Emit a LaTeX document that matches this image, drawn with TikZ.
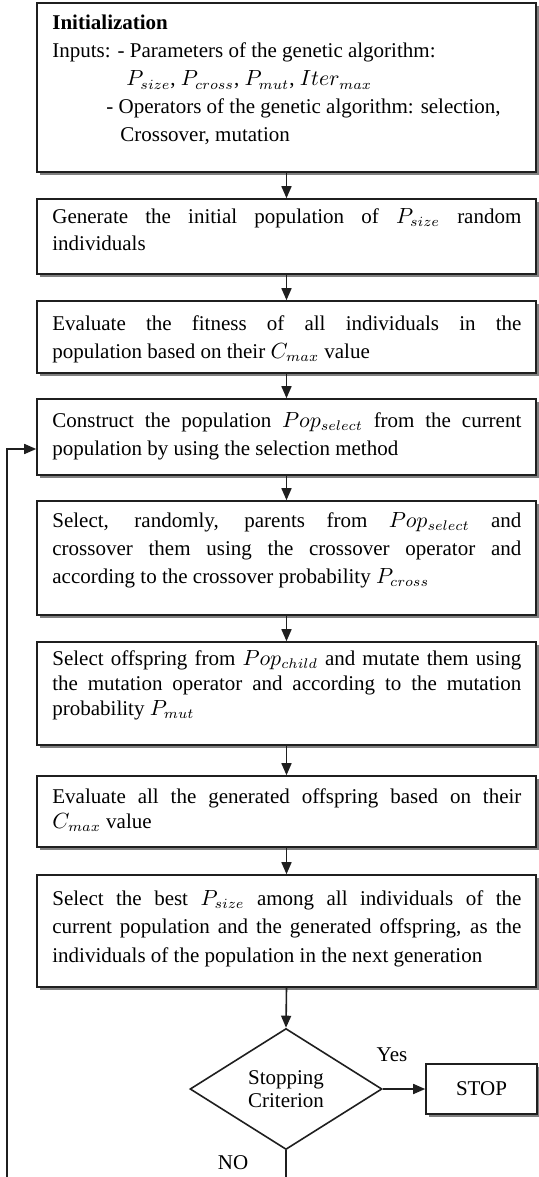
\documentclass[tikz,border=0pt]{standalone}
\usepackage{fontspec}
\setmainfont{Liberation Serif}
\usetikzlibrary{shapes.geometric,arrows.meta,shadows,calc}
\newcommand{\gatext}[2]{\parbox[t]{234.5pt}{\fontsize{10.5pt}{#1}\selectfont\hyphenpenalty=10000\exhyphenpenalty=10000\emergencystretch=2em #2}}
\begin{document}
\begin{tikzpicture}[x=0.5pt,y=-0.5pt,
 line/.style={draw=black!88, line width=0.8pt},
 gabox/.style={line, fill=white, rectangle, inner sep=0pt, minimum width=249.5pt,
   drop shadow={shadow xshift=1.3pt, shadow yshift=-1.3pt, fill=black!50, opacity=1}},
 txt/.style={inner sep=0pt, anchor=base west},
 arr/.style={line, -{Triangle[length=6pt,width=5pt]}},
 lbl/.style={inner sep=0pt, font=\fontsize{10.5pt}{12pt}\selectfont}]
\useasboundingbox[fill=white] (0,0) rectangle (538,1177);

% boxes
\node[gabox, minimum height=84.5pt] (b1) at (286.5,87.5) {};
\node[gabox, minimum height=37.5pt] (b2) at (286.5,236.5) {};
\node[gabox, minimum height=36pt]   (b3) at (286.5,337) {};
\node[gabox, minimum height=38pt]   (b4) at (286.5,437) {};
\node[gabox, minimum height=57pt]   (b5) at (286.5,558) {};
\node[gabox, minimum height=51.5pt] (b6) at (286.5,693.5) {};
\node[gabox, minimum height=35.5pt] (b7) at (286.5,811.5) {};
\node[gabox, minimum height=56pt]   (b8) at (286.5,931) {};
\node[line, diamond, inner sep=0pt, minimum width=96pt, minimum height=60.5pt] (dia) at (286,1089) {};
\node[gabox, minimum width=55.5pt, minimum height=25pt, font=\fontsize{10.5pt}{12pt}\selectfont] (stop) at (481.5,1089) {STOP};

% texts
\node[txt] (t1) at (52,30) {\parbox[t]{240pt}{\fontsize{10.5pt}{14pt}\selectfont
\textbf{Initialization}\\
Inputs: - Parameters of the genetic algorithm:\\
\hspace*{37pt}$P_{size}$, $P_{cross}$, $P_{mut}$, $Iter_{max}$\\
\hspace*{27pt}- Operators of the genetic algorithm: selection,\\
\hspace*{34pt}Crossover, mutation}};
\node[txt] (t2) at (52,223) {\gatext{13.5pt}{Generate the initial population of $P_{size}$ random\linebreak individuals}};
\node[txt] (t3) at (52,330) {\gatext{14pt}{Evaluate the fitness of all individuals in the\linebreak population based on their $C_{max}$ value}};
\node[txt] (t4) at (52,427) {\gatext{14pt}{Construct the population $Pop_{select}$ from the current\linebreak population by using the selection method}};
\node[txt] (t5) at (52,527) {\gatext{14pt}{Select, randomly, parents from $Pop_{select}$ and\linebreak crossover them using the crossover operator and\linebreak according to the crossover probability $P_{cross}$}};
\node[txt] (t6) at (52,665) {\gatext{12.5pt}{Select offspring from $Pop_{child}$ and mutate them using\linebreak the mutation operator and according to the mutation\linebreak probability $P_{mut}$}};
\node[txt] (t7) at (52,803) {\gatext{12.5pt}{Evaluate all the generated offspring based on their\linebreak $C_{max}$ value}};
\node[txt] (t8) at (52,905) {\gatext{14.25pt}{Select the best $P_{size}$ among all individuals of the\linebreak current population and the generated offspring, as the\linebreak individuals of the population in the next generation}};
\node[lbl, align=center, font=\fontsize{10.5pt}{11.5pt}\selectfont] (dt) at (286,1089) {Stopping\\Criterion};
\node[lbl] (yes) at (392,1055) {Yes};
\node[lbl] (no) at (233,1163) {NO};

% connectors
\draw[arr] (b1.south) -- (b2.north);
\draw[arr] (b2.south) -- (b3.north);
\draw[arr] (b3.south) -- (b4.north);
\draw[arr] (b4.south) -- (b5.north);
\draw[arr] (b5.south) -- (b6.north);
\draw[arr] (b6.south) -- (b7.north);
\draw[arr] (b7.south) -- (b8.north);
\draw[arr] (b8.south) -- (dia.north);
\draw[arr] (dia.east) -- (stop.west);
\coordinate (nob) at (286,1177);
\draw[line] (dia.south) -- (nob);
\coordinate (lb) at (7,1177);
\draw[arr] (lb) |- ($(b4.west)+(0,12)$);
\end{tikzpicture}
\end{document}
